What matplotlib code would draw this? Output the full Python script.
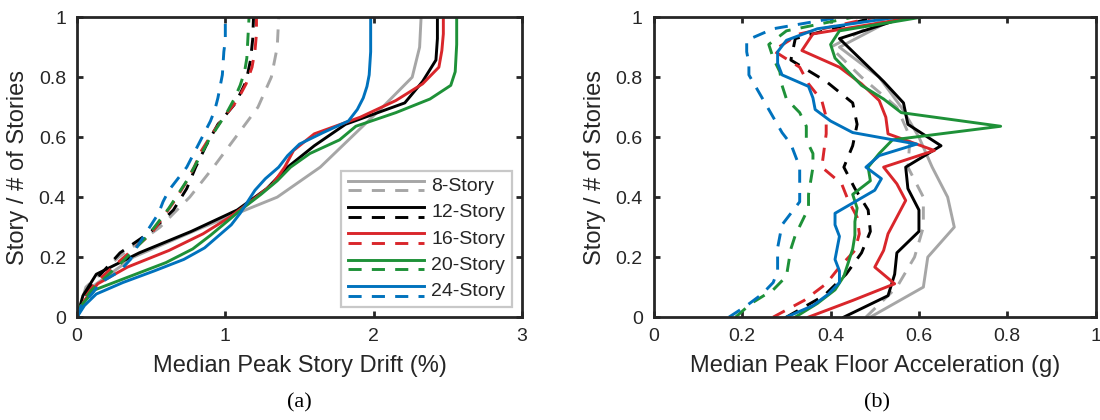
import numpy as np
import matplotlib
matplotlib.use("Agg")
import matplotlib.pyplot as plt
from matplotlib.lines import Line2D
from matplotlib.legend_handler import HandlerBase

plt.rcParams['font.family'] = ['Liberation Sans', 'DejaVu Sans']

labels = ['8-Story', '12-Story', '16-Story', '20-Story', '24-Story']
colors = ['#A6A6A6', '#000000', '#D9262B', '#1E9138', '#0072BD']

# Median peak story drift (%), from base (left) to roof (right)
drift_8 = [0, 0.10, 0.38, 0.85, 1.35, 1.64, 1.85, 2.06, 2.26, 2.31, 2.32]
drift_12 = [0, 0.04, 0.13, 0.42, 0.77, 1.08, 1.28, 1.42, 1.60, 1.81, 2.21, 2.33, 2.42, 2.43, 2.43]
drift_16 = [0, 0.05, 0.14, 0.34, 0.62, 0.85, 1.03, 1.18, 1.32, 1.40, 1.46, 1.60, 1.91, 2.15,
            2.33, 2.44, 2.46, 2.47, 2.47]
drift_20 = [0, 0.04, 0.12, 0.36, 0.60, 0.78, 0.90, 1.01, 1.12, 1.24, 1.35, 1.44, 1.57, 1.77,
            1.88, 2.15, 2.38, 2.52, 2.55, 2.555, 2.56, 2.56, 2.56]
drift_24 = [0, 0.05, 0.13, 0.31, 0.52, 0.72, 0.86, 0.95, 1.04, 1.10, 1.15, 1.20, 1.27, 1.36,
            1.42, 1.50, 1.66, 1.83, 1.89, 1.93, 1.955, 1.97, 1.975, 1.98, 1.98, 1.98, 1.98]

drift_8_d = [0, 0.06, 0.28, 0.56, 0.76, 0.92, 1.07, 1.22, 1.31, 1.35, 1.36]
drift_12_d = [0, 0.05, 0.16, 0.29, 0.50, 0.65, 0.74, 0.80, 0.87, 0.95, 1.07, 1.14, 1.17, 1.185, 1.19]
drift_16_d = [0, 0.04, 0.12, 0.24, 0.37, 0.50, 0.58, 0.66, 0.73, 0.79, 0.84, 0.91, 0.99, 1.08,
              1.14, 1.18, 1.20, 1.21, 1.21]
drift_20_d = [0, 0.03, 0.10, 0.20, 0.30, 0.39, 0.48, 0.55, 0.62, 0.68, 0.74, 0.79, 0.84, 0.89,
              0.95, 1.01, 1.06, 1.10, 1.13, 1.145, 1.15, 1.155, 1.16]
drift_24_d = [0, 0.03, 0.10, 0.16, 0.29, 0.36, 0.40, 0.45, 0.50, 0.55, 0.58, 0.62, 0.68, 0.74,
              0.78, 0.82, 0.86, 0.90, 0.93, 0.95, 0.965, 0.98, 0.985, 0.99, 1.0, 1.0, 1.0]

# Median peak floor acceleration (g), from base to roof
pfa_8 = [0.49, 0.61, 0.62, 0.68, 0.665, 0.63, 0.60, 0.56, 0.51, 0.42, 0.55]
pfa_12 = [0.43, 0.53, 0.545, 0.55, 0.60, 0.60, 0.575, 0.57, 0.65, 0.575, 0.565, 0.52, 0.47, 0.42, 0.57]
pfa_16 = [0.35, 0.45, 0.545, 0.50, 0.52, 0.53, 0.55, 0.57, 0.55, 0.52, 0.635, 0.53, 0.525, 0.51,
          0.47, 0.42, 0.335, 0.36, 0.59]
pfa_20 = [0.32, 0.37, 0.41, 0.43, 0.44, 0.45, 0.455, 0.455, 0.46, 0.45, 0.49, 0.485, 0.51, 0.54,
          0.785, 0.56, 0.52, 0.47, 0.44, 0.41, 0.40, 0.42, 0.605]
pfa_24 = [0.30, 0.36, 0.395, 0.42, 0.42, 0.41, 0.415, 0.42, 0.41, 0.41, 0.455, 0.50, 0.515, 0.48,
          0.51, 0.595, 0.45, 0.40, 0.365, 0.36, 0.35, 0.29, 0.28, 0.28, 0.30, 0.37, 0.55]

pfa_8_d = [0.48, 0.55, 0.59, 0.61, 0.61, 0.575, 0.58, 0.55, 0.47, 0.40, 0.53]
pfa_12_d = [0.30, 0.385, 0.435, 0.47, 0.49, 0.485, 0.455, 0.43, 0.45, 0.46, 0.45, 0.39, 0.31, 0.32, 0.50]
pfa_16_d = [0.27, 0.34, 0.39, 0.42, 0.455, 0.465, 0.46, 0.44, 0.425, 0.38, 0.385, 0.39, 0.39, 0.38,
            0.35, 0.33, 0.27, 0.33, 0.50]
pfa_20_d = [0.185, 0.22, 0.27, 0.30, 0.305, 0.31, 0.32, 0.335, 0.35, 0.35, 0.355, 0.36, 0.36, 0.345,
            0.345, 0.33, 0.30, 0.29, 0.285, 0.27, 0.26, 0.30, 0.45]
pfa_24_d = [0.17, 0.21, 0.245, 0.27, 0.28, 0.28, 0.28, 0.285, 0.29, 0.31, 0.33, 0.33, 0.33, 0.33,
            0.32, 0.31, 0.29, 0.275, 0.26, 0.245, 0.23, 0.215, 0.215, 0.21, 0.21, 0.27, 0.42]

drift_solid = [drift_8, drift_12, drift_16, drift_20, drift_24]
drift_dash = [drift_8_d, drift_12_d, drift_16_d, drift_20_d, drift_24_d]
pfa_solid = [pfa_8, pfa_12, pfa_16, pfa_20, pfa_24]
pfa_dash = [pfa_8_d, pfa_12_d, pfa_16_d, pfa_20_d, pfa_24_d]

LW = 2.1
DASH = (4.5, 3.5)
AX_COLOR = '#262626'


class SolidDashHandler(HandlerBase):
    """Legend entry: solid line on top, dashed line right under it."""

    def create_artists(self, legend, orig_handle, xdescent, ydescent,
                       width, height, fontsize, trans):
        c = orig_handle.get_color()
        x = [-xdescent, -xdescent + width]
        yc = -ydescent + height / 2
        solid = Line2D(x, [yc + 0.25 * height] * 2, color=c, lw=LW, transform=trans)
        dash = Line2D(x, [yc - 0.45 * height] * 2, color=c, lw=LW, transform=trans)
        dash.set_dashes(DASH)
        return [solid, dash]


def style_axes(ax):
    for s in ax.spines.values():
        s.set_linewidth(2.0)
        s.set_color(AX_COLOR)
    ax.tick_params(direction='in', length=4, width=2.0, color=AX_COLOR,
                   top=True, right=True, labelsize=14, labelcolor=AX_COLOR, pad=8)


fig = plt.figure(figsize=(11, 4.2), dpi=100)
ax1 = fig.add_axes([0.070, 0.245, 0.4045, 0.714])
ax2 = fig.add_axes([0.5945, 0.245, 0.4015, 0.714])

handles = []
for vals, vals_d, c, lab in zip(drift_solid, drift_dash, colors, labels):
    lev = np.linspace(0, 1, len(vals))
    h, = ax1.plot(vals, lev, color=c, lw=LW, label=lab)
    ax1.plot(vals_d, lev, color=c, lw=LW, dashes=DASH)
    handles.append(h)

for vals, vals_d, c in zip(pfa_solid, pfa_dash, colors):
    lev = np.linspace(0, 1, len(vals))
    ax2.plot(vals, lev, color=c, lw=LW)
    ax2.plot(vals_d, lev, color=c, lw=LW, dashes=DASH)

ticks01 = [0, 0.2, 0.4, 0.6, 0.8, 1]
ticks01_lab = ['0', '0.2', '0.4', '0.6', '0.8', '1']

ax1.set_xlim(0, 3)
ax1.set_ylim(0, 1)
ax1.set_xticks([0, 1, 2, 3])
ax1.set_yticks(ticks01)
ax1.set_yticklabels(ticks01_lab)
ax1.set_xlabel('Median Peak Story Drift (%)', fontsize=17, color=AX_COLOR, labelpad=7)
ax1.set_ylabel('Story / # of Stories', fontsize=17, color=AX_COLOR, labelpad=7)

ax2.set_xlim(0, 1)
ax2.set_ylim(0, 1)
ax2.set_xticks(ticks01)
ax2.set_xticklabels(ticks01_lab)
ax2.set_yticks(ticks01)
ax2.set_yticklabels(ticks01_lab)
ax2.set_xlabel('Median Peak Floor Acceleration (g)', fontsize=17, color=AX_COLOR, labelpad=7)
ax2.set_ylabel('Story / # of Stories', fontsize=17, color=AX_COLOR, labelpad=7)

for ax in (ax1, ax2):
    style_axes(ax)

leg = ax1.legend(handles=handles, loc='lower right', bbox_to_anchor=(0.978, 0.033),
                 borderaxespad=0, handler_map={Line2D: SolidDashHandler()}, fontsize=14,
                 handlelength=3.9, handletextpad=0.4, labelspacing=0.45,
                 borderpad=0.35, fancybox=False, framealpha=1)
leg.get_frame().set_edgecolor('#C8C8C8')
leg.get_frame().set_linewidth(1.6)
for t in leg.get_texts():
    t.set_color(AX_COLOR)

fig.text(0.272, 0.04, '(a)', ha='center', va='center', fontsize=16,
         family=['Liberation Serif', 'DejaVu Serif'])
fig.text(0.797, 0.04, '(b)', ha='center', va='center', fontsize=16,
         family=['Liberation Serif', 'DejaVu Serif'])

fig.savefig('out.png', dpi=100)
